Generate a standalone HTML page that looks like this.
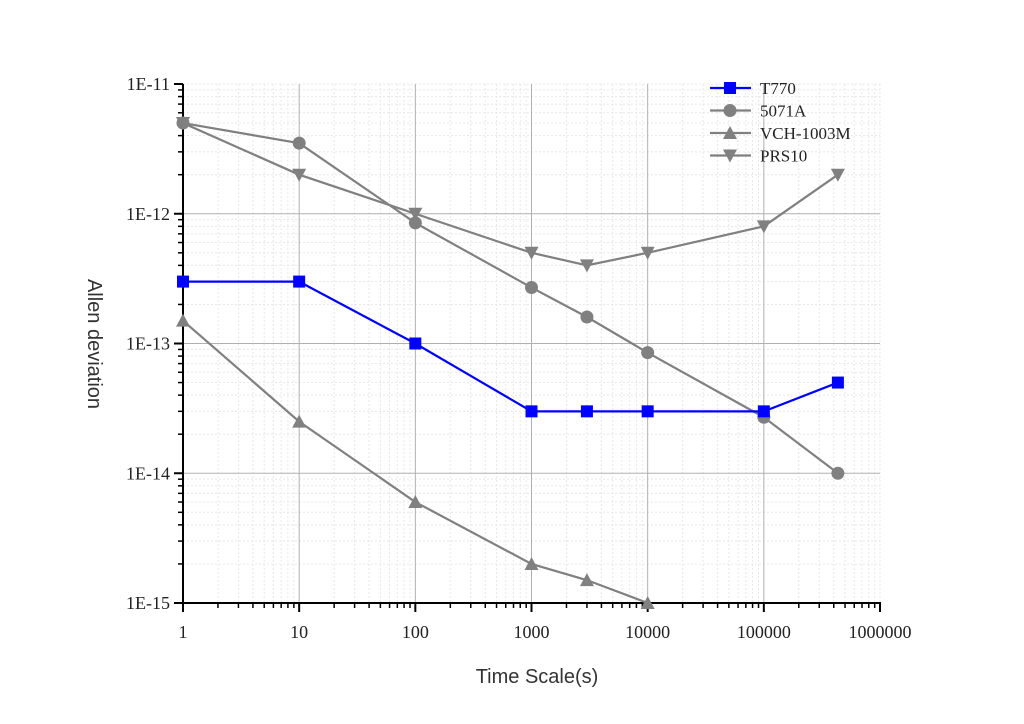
<!DOCTYPE html>
<html><head><meta charset="utf-8"><style>
html,body{margin:0;padding:0;background:#fff;}
svg{display:block;}
</style></head><body>
<svg id="s" width="1024" height="724" xmlns="http://www.w3.org/2000/svg">
<rect width="1024" height="724" fill="#fff"/>
<g id="grid"></g>
<g id="axes"></g>
<g id="series"></g>
<g id="legend"></g>
<text x="537" y="683" font-family="Liberation Sans, sans-serif" font-size="20" fill="#333" text-anchor="middle">Time Scale(s)</text>
<text transform="translate(88,344) rotate(90)" font-family="Liberation Sans, sans-serif" font-size="20" fill="#333" text-anchor="middle">Allen deviation</text>
</svg>
<script>
var NS="http://www.w3.org/2000/svg";
var X0=183,X1=880,DX=(X1-X0)/6,Y0=84,Y1=603,DY=(Y1-Y0)/4;
function px(v){return X0+DX*Math.log10(v);}
function py(v){return Y0+DY*(-11-Math.log10(v));}
function el(p,t,a,txt){var e=document.createElementNS(NS,t);for(var k in a)e.setAttribute(k,a[k]);if(txt!==undefined)e.textContent=txt;document.getElementById(p).appendChild(e);return e;}
for(var d=0;d<6;d++)for(var m=2;m<=9;m++){var x=px(Math.pow(10,d)*m);el("grid","line",{x1:x,x2:x,y1:Y0,y2:Y1,stroke:"#e8e8e8","stroke-width":1,"stroke-dasharray":"2,2"});}
for(var d=-15;d<-11;d++)for(var m=2;m<=9;m++){var y=py(Math.pow(10,d)*m);el("grid","line",{x1:X0,x2:X1,y1:y,y2:y,stroke:"#e8e8e8","stroke-width":1,"stroke-dasharray":"2,2"});}
el("grid","line",{x1:X1,x2:X1,y1:Y0,y2:Y1,stroke:"#e8e8e8","stroke-width":1,"stroke-dasharray":"2,2"});
el("grid","line",{x1:X0,x2:X1,y1:Y0,y2:Y0,stroke:"#e8e8e8","stroke-width":1,"stroke-dasharray":"2,2"});
for(var d=1;d<=5;d++){var x=X0+DX*d;el("grid","line",{x1:x,x2:x,y1:Y0,y2:Y1,stroke:"#b0b0b0","stroke-width":1});}
for(var d=1;d<4;d++){var y=Y0+DY*d;el("grid","line",{x1:X0,x2:X1,y1:y,y2:y,stroke:"#b0b0b0","stroke-width":1});}
el("axes","line",{x1:X0,x2:X0,y1:Y0,y2:Y1+1,stroke:"#000","stroke-width":2});
el("axes","line",{x1:X0-1,x2:X1+1,y1:Y1,y2:Y1,stroke:"#000","stroke-width":2});
for(var d=0;d<=6;d++){var x=X0+DX*d;el("axes","line",{x1:x,x2:x,y1:Y1,y2:Y1+9,stroke:"#000","stroke-width":2});
el("axes","text",{x:x,y:Y1+35,"font-family":"Liberation Serif, serif","font-size":18,"text-anchor":"middle",fill:"#222"},String(Math.pow(10,d)));
if(d<6)for(var m=2;m<=9;m++){var xm=px(Math.pow(10,d)*m);el("axes","line",{x1:xm,x2:xm,y1:Y1,y2:Y1+5,stroke:"#000","stroke-width":1.5});}}
for(var d=0;d<=4;d++){var y=Y0+DY*d;el("axes","line",{x1:X0-9,x2:X0,y1:y,y2:y,stroke:"#000","stroke-width":2});
el("axes","text",{x:X0-13,y:y+6,"font-family":"Liberation Serif, serif","font-size":18,"text-anchor":"end",fill:"#222"},"1E-"+(11+d));
if(d<4)for(var m=2;m<=9;m++){var ym=py(Math.pow(10,-12-d)*m);el("axes","line",{x1:X0-5,x2:X0,y1:ym,y2:ym,stroke:"#000","stroke-width":1.5});}}
var E=434000;
var S=[
["T770","#0000ff","sq",[[1,3e-13],[10,3e-13],[100,1e-13],[1000,3e-14],[3000,3e-14],[10000,3e-14],[100000,3e-14],[E,5e-14]]],
["5071A","#808080","ci",[[1,5e-12],[10,3.5e-12],[100,8.5e-13],[1000,2.7e-13],[3000,1.6e-13],[10000,8.5e-14],[100000,2.7e-14],[E,1e-14]]],
["VCH-1003M","#808080","up",[[1,1.5e-13],[10,2.5e-14],[100,6e-15],[1000,2e-15],[3000,1.5e-15],[10000,1e-15]]],
["PRS10","#808080","dn",[[1,5e-12],[10,2e-12],[100,1e-12],[1000,5e-13],[3000,4e-13],[10000,5e-13],[100000,8e-13],[E,2e-12]]]];
function mark(g,t,x,y,c){
if(t=="sq")el(g,"rect",{x:x-6,y:y-6,width:12,height:12,fill:c});
else if(t=="ci")el(g,"circle",{cx:x,cy:y,r:6.5,fill:c});
else if(t=="up")el(g,"polygon",{points:(x-7)+","+(y+6)+" "+(x+7)+","+(y+6)+" "+x+","+(y-7),fill:c});
else el(g,"polygon",{points:(x-7)+","+(y-6)+" "+(x+7)+","+(y-6)+" "+x+","+(y+7),fill:c});}
[3,2,1,0].forEach(function(i){var s=S[i];var pts=s[3].map(function(p){return px(p[0])+","+py(p[1]);}).join(" ");
el("series","polyline",{points:pts,fill:"none",stroke:s[1],"stroke-width":2.2});
s[3].forEach(function(p){mark("series",s[2],px(p[0]),py(p[1]),s[1]);});});
S.forEach(function(s,i){var y=88+22.5*i;el("legend","line",{x1:710,x2:751,y1:y,y2:y,stroke:s[1],"stroke-width":2.2});mark("legend",s[2],730,y,s[1]);
el("legend","text",{x:760,y:y+6,"font-family":"Liberation Serif, serif","font-size":17,fill:"#222"},s[0]);});
</script>
</body></html>
